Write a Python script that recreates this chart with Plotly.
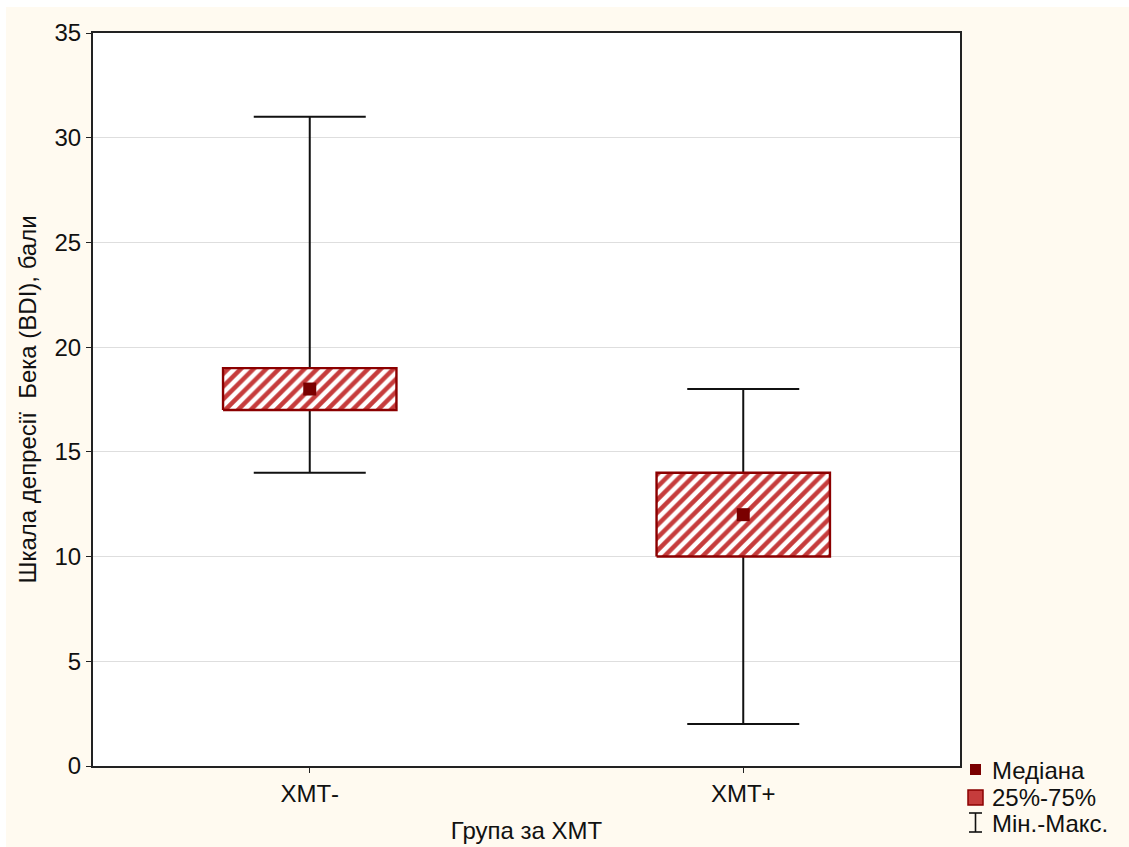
import plotly.graph_objects as go

# Beck Depression Inventory scores by group
groups = ["ХМТ-", "ХМТ+"]
minimum = [14, 2]
q1 = [17, 10]
median = [18, 12]
q3 = [19, 14]
maximum = [31, 18]

y_ticks = [0, 5, 10, 15, 20, 25, 30, 35]
legend_labels = ["Медіана", "25%-75%", "Мін.-Макс."]

FONT = "Liberation Sans, Arial, sans-serif"
FS = 24
DARK_RED = "#7a0000"
BOX_EDGE = "#8b0000"
PATTERN_RED = "#c63c3c"
CREAM = "#fffaf0"

W, H = 1129, 847
L, R, T, B = 93, 169, 33, 81
PW, PH = W - L - R, H - T - B

BOX_HALF = 0.2

pos = list(range(len(groups)))

fig = go.Figure()

# whiskers: min-max error bars centred on the median
fig.add_trace(go.Scatter(
    x=pos, y=median, mode="markers",
    marker=dict(size=1, opacity=0),
    error_y=dict(type="data", symmetric=False,
                 array=[mx - md for mx, md in zip(maximum, median)],
                 arrayminus=[md - mn for md, mn in zip(median, minimum)],
                 color="#111111", thickness=2, width=56),
    showlegend=False, hoverinfo="skip",
))

# interquartile boxes with a hatched fill
bx, by = [], []
for i, lo, hi in zip(pos, q1, q3):
    bx += [i - BOX_HALF, i + BOX_HALF, i + BOX_HALF, i - BOX_HALF, i - BOX_HALF, None]
    by += [lo, lo, hi, hi, lo, None]
fig.add_trace(go.Scatter(
    x=bx, y=by, mode="lines", fill="toself",
    line=dict(color=BOX_EDGE, width=2.4),
    fillcolor="white",
    fillpattern=dict(shape="/", fgcolor=PATTERN_RED, fgopacity=1,
                     bgcolor="white", size=9, solidity=0.5),
    showlegend=False, hoverinfo="skip",
))

# medians
fig.add_trace(go.Scatter(
    x=pos, y=median, mode="markers",
    marker=dict(symbol="square", size=13, color=DARK_RED),
    showlegend=False,
))


def px_x(p):
    return (p - L) / PW


def px_y(p):
    return (H - B - p) / PH


shapes = [
    # thin white strip along the top and left page edges
    dict(type="rect", xref="paper", yref="paper", layer="below",
         x0=px_x(-5), x1=px_x(W + 5), y0=px_y(7), y1=px_y(-5),
         fillcolor="white", line=dict(width=0)),
    dict(type="rect", xref="paper", yref="paper", layer="below",
         x0=px_x(-5), x1=px_x(6), y0=px_y(H + 5), y1=px_y(-5),
         fillcolor="white", line=dict(width=0)),
    # legend: median marker
    dict(type="rect", xref="paper", yref="paper",
         x0=px_x(970), x1=px_x(981), y0=px_y(775), y1=px_y(764),
         fillcolor=DARK_RED, line=dict(width=0)),
    # legend: box swatch
    dict(type="rect", xref="paper", yref="paper",
         x0=px_x(968), x1=px_x(983), y0=px_y(805), y1=px_y(790),
         fillcolor=PATTERN_RED, line=dict(color=BOX_EDGE, width=1.5)),
    # legend: whisker symbol
    dict(type="line", xref="paper", yref="paper",
         x0=px_x(975.5), x1=px_x(975.5), y0=px_y(832), y1=px_y(813),
         line=dict(color="#111111", width=1.6)),
    dict(type="line", xref="paper", yref="paper",
         x0=px_x(969), x1=px_x(982), y0=px_y(813), y1=px_y(813),
         line=dict(color="#111111", width=1.6)),
    dict(type="line", xref="paper", yref="paper",
         x0=px_x(969), x1=px_x(982), y0=px_y(832), y1=px_y(832),
         line=dict(color="#111111", width=1.6)),
]

annotations = []
for label, cy in zip(legend_labels, [770, 797, 823]):
    annotations.append(dict(
        xref="paper", yref="paper", x=px_x(990), y=px_y(cy),
        xanchor="left", yanchor="middle", showarrow=False,
        text=label, font=dict(family=FONT, size=FS, color="#111111"),
    ))

fig.update_layout(
    width=W, height=H,
    margin=dict(l=L, r=R, t=T, b=B, pad=0, autoexpand=False),
    paper_bgcolor=CREAM,
    plot_bgcolor="white",
    font=dict(family=FONT, size=FS, color="#111111"),
    shapes=shapes,
    annotations=annotations,
    showlegend=False,
    xaxis=dict(
        range=[-0.5, 1.5], tickvals=pos, ticktext=groups,
        showgrid=False, zeroline=False, automargin=False,
        showline=True, mirror=True, linecolor="#222222", linewidth=2,
        ticks="outside", ticklen=5, tickcolor="#222222",
        tickfont=dict(size=FS),
        title=dict(text="Група за ХМТ", font=dict(size=FS), standoff=16),
    ),
    yaxis=dict(
        range=[0, 35], tickvals=y_ticks,
        showgrid=True, gridcolor="#dedede", gridwidth=1,
        zeroline=False, automargin=False,
        showline=True, mirror=True, linecolor="#222222", linewidth=2,
        ticks="outside", ticklen=5, tickcolor="#222222",
        tickfont=dict(size=FS),
        title=dict(text="Шкала депресії \u00a0Бека (BDI), бали",
                   font=dict(size=FS), standoff=11),
    ),
)

fig.write_html("out.html")
